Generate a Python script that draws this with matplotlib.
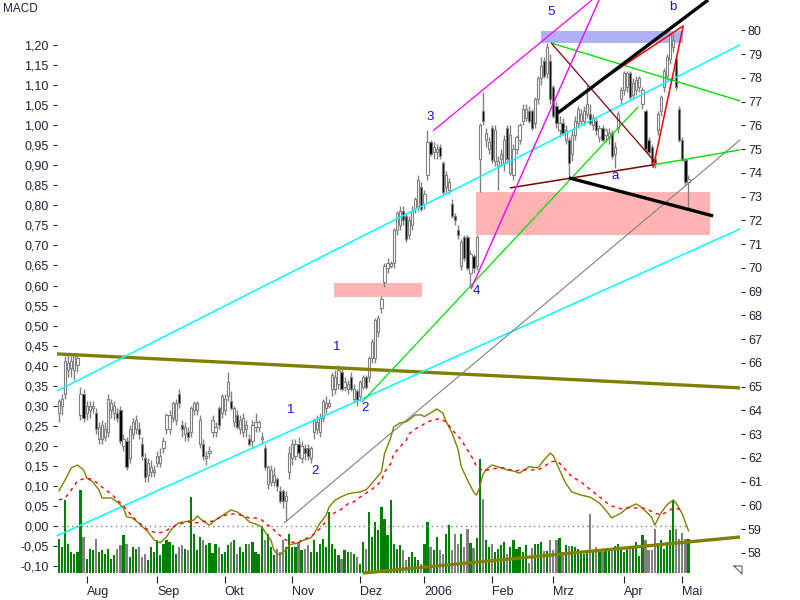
import numpy as np
import matplotlib
matplotlib.use("Agg")
import matplotlib.pyplot as plt
from matplotlib.patches import Rectangle
from matplotlib.lines import Line2D
from matplotlib.ticker import FuncFormatter

plt.rcParams['font.family'] = ['Liberation Sans', 'DejaVu Sans']

# Kursdaten (Tage als Index, Juli 2005 - Mai 2006)
opens = [63.9, 64.2, 64.7, 65.7, 65.8, 65.7, 65.9, 63.8, 64.7, 63.9,
         64.0, 64.1, 63.9, 62.8, 62.8, 62.9, 63.1, 64.0, 63.9, 63.9,
         64.0, 62.5, 62.7, 62.0, 63.0, 63.2, 63.2, 62.6, 62.0, 61.3,
         61.4, 61.4, 61.8, 61.8, 62.4, 63.2, 63.2, 63.7, 63.6, 64.7,
         63.4, 63.0, 63.1, 63.1, 64.0, 64.0, 62.6, 62.6, 62.0, 62.2,
         63.1, 63.1, 64.1, 63.9, 64.0, 64.6, 64.4, 63.5, 63.8, 63.2,
         63.1, 63.2, 62.8, 62.7, 63.3, 63.3, 62.8, 62.4, 60.9, 61.0,
         61.0, 61.1, 60.6, 60.6, 60.2, 61.4, 62.0, 62.1, 62.6, 62.0,
         62.4, 62.4, 62.0, 63.1, 63.2, 63.1, 63.7, 64.1, 64.2, 64.9,
         64.9, 65.1, 65.6, 65.0, 64.9, 65.4, 64.5, 64.8, 64.6, 65.0,
         65.4, 65.4, 66.2, 66.2, 67.3, 68.3, 69.4, 70.0, 70.1, 70.2,
         71.6, 71.8, 72.4, 72.2, 71.4, 71.8, 72.5, 72.6, 73.4, 72.7,
         73.9, 75.3, 74.9, 74.9, 75.1, 74.4, 73.4, 73.3, 72.7, 72.2,
         71.6, 70.1, 71.3, 71.3, 69.8, 70.5, 70.1, 74.6, 76.6, 75.4,
         75.0, 75.9, 74.5, 74.3, 74.6, 74.4, 75.9, 74.0, 73.9, 75.0,
         75.4, 76.2, 76.3, 76.6, 76.6, 76.1, 77.1, 78.0, 78.7, 78.2,
         78.7, 77.6, 76.8, 75.8, 76.1, 75.4, 75.4, 74.8, 75.6, 76.1,
         76.2, 76.2, 76.5, 76.5, 76.0, 76.2, 75.5, 75.9, 75.6, 75.5,
         75.7, 74.8, 75.9, 77.1, 77.5, 77.6, 78.2, 77.3, 77.5, 77.6,
         76.9, 76.6, 75.4, 75.1, 74.6, 75.8, 76.6, 77.6, 78.1, 78.8,
         79.3, 78.8, 76.7, 75.4, 74.55, 73.6]
highs = [64.5, 64.7, 66.3, 66.4, 66.3, 66.4, 66.4, 65.0, 64.9, 64.4,
         64.4, 64.4, 64.1, 63.5, 63.6, 63.5, 64.7, 64.5, 64.4, 64.1,
         64.2, 63.0, 62.9, 63.4, 63.7, 63.8, 63.5, 62.9, 62.2, 62.0,
         61.9, 61.7, 62.3, 62.4, 62.9, 63.9, 64.0, 64.4, 64.5, 64.9,
         63.6, 63.5, 63.3, 64.2, 64.4, 64.4, 63.8, 62.8, 62.3, 62.5,
         63.8, 63.5, 64.2, 64.7, 64.7, 65.6, 64.8, 64.2, 64.0, 63.8,
         63.9, 63.6, 63.0, 63.6, 63.9, 63.6, 63.1, 62.6, 61.7, 61.7,
         61.6, 61.2, 60.8, 60.7, 60.6, 62.5, 62.8, 62.8, 62.9, 62.7,
         62.6, 62.6, 62.5, 63.7, 63.8, 63.9, 64.5, 64.6, 64.5, 65.6,
         65.7, 65.9, 65.8, 65.4, 65.3, 65.6, 65.1, 64.9, 65.3, 65.5,
         65.5, 66.3, 67.0, 67.9, 68.0, 68.8, 70.2, 70.4, 70.3, 71.7,
         72.4, 72.6, 72.6, 72.3, 72.2, 72.6, 73.0, 73.9, 73.6, 73.3,
         75.8, 75.4, 75.3, 75.2, 75.2, 74.5, 74.1, 73.8, 72.9, 72.3,
         71.8, 71.2, 71.4, 71.4, 70.7, 70.6, 71.4, 76.1, 77.4, 75.9,
         75.5, 76.0, 76.0, 74.7, 75.0, 75.6, 76.0, 76.0, 75.2, 75.6,
         76.1, 76.9, 76.9, 76.8, 76.7, 77.2, 78.1, 78.9, 78.9, 79.45,
         79.0, 77.7, 77.0, 76.4, 76.3, 76.0, 75.5, 75.8, 76.4, 76.8,
         76.7, 76.8, 77.7, 76.9, 76.5, 76.3, 76.0, 76.0, 75.9, 75.9,
         75.8, 75.3, 76.6, 77.6, 78.3, 78.3, 78.3, 78.0, 78.1, 78.1,
         77.6, 76.7, 75.5, 75.2, 74.7, 76.6, 77.3, 78.4, 79.0, 79.9,
         79.9, 78.9, 76.8, 75.5, 74.6, 73.9]
lows = [63.5, 63.8, 64.5, 65.4, 65.4, 65.3, 65.6, 63.6, 63.5, 63.6,
        63.7, 63.9, 63.0, 62.6, 62.6, 62.7, 62.9, 63.7, 63.6, 63.5,
        62.6, 62.3, 61.5, 61.8, 62.8, 63.0, 62.8, 61.9, 61.0, 61.0,
        61.2, 61.2, 61.6, 61.6, 62.2, 63.0, 63.0, 63.5, 63.4, 64.1,
        62.9, 62.7, 62.7, 62.9, 63.8, 63.8, 62.4, 61.9, 61.7, 62.0,
        62.9, 62.9, 63.2, 63.7, 63.8, 64.4, 64.0, 63.3, 63.2, 63.0,
        62.9, 62.9, 62.5, 62.4, 63.1, 63.1, 62.6, 61.5, 60.7, 60.8,
        60.8, 60.6, 60.1, 59.9, 59.35, 61.1, 61.7, 61.9, 62.0, 61.8,
        61.9, 61.9, 61.8, 62.8, 63.0, 62.9, 63.5, 63.9, 64.1, 64.6,
        64.7, 64.9, 64.8, 64.8, 64.7, 64.8, 64.3, 64.2, 64.4, 64.9,
        64.9, 65.2, 66.0, 66.0, 67.1, 68.1, 69.2, 69.8, 70.0, 70.0,
        71.4, 71.6, 71.8, 71.1, 71.2, 71.6, 72.3, 72.4, 72.4, 72.5,
        73.7, 74.7, 74.6, 74.6, 74.6, 73.1, 73.2, 73.1, 72.1, 71.8,
        71.2, 69.9, 70.3, 69.9, 69.2, 69.8, 69.9, 73.2, 76.0, 75.1,
        74.8, 74.4, 74.3, 73.3, 74.3, 74.1, 74.4, 73.9, 73.7, 74.8,
        75.2, 76.0, 76.2, 76.1, 75.8, 75.9, 76.9, 77.7, 78.0, 78.0,
        76.9, 76.3, 75.9, 75.5, 75.6, 75.2, 73.8, 74.5, 75.4, 75.9,
        76.0, 76.0, 76.3, 76.0, 75.8, 75.6, 75.3, 75.3, 75.3, 75.2,
        74.6, 74.2, 75.7, 76.9, 77.3, 77.4, 77.1, 77.1, 77.3, 77.4,
        76.7, 74.9, 74.8, 74.3, 74.2, 75.6, 76.4, 77.4, 77.9, 78.6,
        79.1, 77.5, 75.3, 74.5, 73.5, 72.45]
closes = [64.4, 64.5, 66.1, 66.0, 66.1, 66.3, 66.2, 64.7, 63.7, 64.2,
          64.2, 64.2, 63.2, 63.3, 63.4, 63.2, 64.5, 64.3, 64.2, 63.7,
          62.7, 62.8, 61.6, 63.2, 63.5, 63.6, 63.0, 62.1, 61.2, 61.8,
          61.6, 61.5, 62.1, 62.1, 62.7, 63.8, 63.8, 64.3, 64.3, 64.3,
          63.2, 63.3, 62.9, 64.1, 64.3, 64.3, 63.6, 62.1, 62.1, 62.3,
          63.6, 63.3, 63.4, 64.6, 64.5, 65.2, 64.1, 64.1, 63.3, 63.6,
          63.7, 63.4, 62.6, 63.4, 63.5, 63.5, 62.9, 61.6, 61.6, 61.5,
          61.3, 60.8, 60.2, 60.2, 60.4, 62.2, 62.6, 62.6, 62.2, 62.5,
          62.2, 62.1, 62.4, 63.6, 63.5, 63.7, 64.4, 64.3, 64.3, 65.5,
          65.4, 65.7, 64.9, 65.2, 65.1, 64.9, 64.9, 64.4, 65.2, 65.4,
          65.0, 66.2, 66.9, 67.8, 67.9, 68.7, 70.1, 70.2, 70.2, 71.6,
          72.3, 72.4, 72.0, 71.2, 72.0, 72.4, 72.9, 73.7, 72.5, 73.1,
          75.3, 74.8, 75.1, 75.0, 74.7, 73.2, 73.9, 73.6, 72.2, 72.0,
          71.4, 71.1, 70.4, 70.0, 70.6, 70.0, 71.3, 76.0, 76.2, 75.7,
          75.3, 74.55, 75.8, 74.5, 74.8, 75.4, 74.6, 75.6, 75.0, 75.5,
          76.0, 76.7, 76.7, 76.2, 75.9, 77.1, 78.0, 78.5, 78.1, 79.3,
          77.1, 76.4, 76.1, 76.1, 75.7, 75.8, 74.4, 75.6, 76.2, 76.7,
          76.5, 76.6, 76.9, 76.1, 76.3, 75.8, 75.9, 75.4, 75.8, 75.7,
          74.7, 75.1, 76.5, 77.5, 78.2, 78.2, 77.2, 77.8, 77.9, 78.0,
          77.5, 75.0, 74.9, 74.4, 74.4, 76.5, 77.2, 78.3, 78.9, 79.8,
          79.6, 77.6, 75.4, 74.55, 73.6, 73.75]
volume = [34, 26, 73, 29, 21, 19, 21, 83, 36, 14,
          24, 23, 34, 21, 23, 19, 24, 14, 18, 24,
          28, 38, 29, 16, 26, 24, 26, 16, 19, 13,
          26, 21, 33, 18, 29, 33, 31, 28, 19, 26,
          28, 24, 23, 76, 39, 23, 36, 33, 28, 30,
          20, 29, 26, 19, 21, 28, 31, 33, 19, 26,
          21, 29, 29, 31, 21, 19, 46, 33, 39, 26,
          18, 24, 21, 33, 26, 39, 26, 26, 31, 23,
          24, 28, 21, 33, 21, 29, 34, 26, 61, 29,
          24, 18, 14, 23, 21, 21, 19, 16, 9, 31,
          24, 61, 36, 51, 43, 66, 54, 38, 73, 29,
          24, 28, 23, 13, 16, 21, 16, 13, 9, 29,
          51, 26, 23, 36, 23, 19, 39, 48, 23, 39,
          29, 39, 26, 44, 30, 25, 35, 114, 74, 33,
          26, 29, 21, 24, 28, 31, 19, 26, 33, 24,
          26, 21, 28, 10, 25, 29, 29, 31, 22, 22,
          33, 23, 33, 35, 21, 28, 27, 27, 26, 24,
          21, 19, 22, 59, 21, 26, 24, 21, 23, 25,
          25, 27, 29, 23, 21, 25, 26, 27, 31, 17,
          38, 33, 23, 23, 44, 30, 33, 24, 31, 43,
          73, 44, 34, 40, 34, 34]

macd_days = [0, 2, 4, 6, 8, 9, 11, 13, 14, 17, 19, 21, 22, 24, 26, 29, 31, 33, 35, 37,
             39, 42, 44, 45, 47, 49, 51, 53, 56, 58, 60, 62, 64, 66, 68, 69, 70, 71, 72, 73,
             74, 75, 78, 79, 82, 83, 85, 87, 88, 90, 92, 94, 96, 98, 100, 102, 105, 106, 108, 109,
             111, 113, 114, 116, 118, 119, 121, 123, 125, 126, 128, 130, 131, 133, 135, 136, 137, 138, 139, 141,
             144, 146, 148, 150, 153, 156, 158, 160, 161, 163, 165, 167, 170, 173, 176, 178, 180, 183, 185, 188,
             190, 193, 194, 196, 198, 200, 201, 203, 205]
macd_vals = [0.088, 0.115, 0.145, 0.152, 0.14, 0.12, 0.11, 0.09, 0.07, 0.07, 0.06, 0.045, 0.023, 0.02, 0.007,
             -0.015, -0.035, -0.042, -0.027, -0.005, 0.008, 0.012, 0.015, 0.025, 0.012, 0.002, 0.015, 0.025,
             0.04, 0.035, 0.025, 0.01, 0.005, -0.002, -0.025, -0.035, -0.06, -0.07, -0.072, -0.065, -0.06,
             -0.047, -0.042, -0.037, -0.03, -0.02, 0.007, 0.027, 0.048, 0.065, 0.073, 0.08, 0.083, 0.085, 0.09,
             0.107, 0.135, 0.18, 0.22, 0.247, 0.257, 0.26, 0.265, 0.277, 0.277, 0.273, 0.282, 0.292, 0.282,
             0.262, 0.232, 0.19, 0.148, 0.115, 0.085, 0.077, 0.097, 0.127, 0.14, 0.152, 0.145, 0.14, 0.137,
             0.132, 0.148, 0.145, 0.165, 0.182, 0.175, 0.14, 0.107, 0.085, 0.077, 0.072, 0.057, 0.04, 0.02,
             0.032, 0.045, 0.055, 0.045, 0.022, 0.002, 0.032, 0.053, 0.065, 0.057, 0.03, -0.012]
signal_days = [0, 2, 4, 6, 8, 10, 12, 14, 17, 19, 21, 23, 25, 27, 29, 32, 34, 36, 38, 40,
               42, 45, 47, 49, 51, 53, 56, 58, 60, 62, 64, 66, 68, 69, 71, 73, 75, 78, 79, 82,
               83, 85, 87, 89, 92, 94, 96, 98, 100, 102, 105, 106, 108, 109, 111, 113, 114, 116, 118, 120,
               122, 124, 126, 128, 131, 133, 135, 136, 138, 140, 143, 145, 147, 149, 151, 153, 156, 158, 160, 162,
               163, 165, 167, 170, 172, 174, 176, 178, 180, 183, 185, 187, 190, 192, 194, 196, 198, 200, 202, 203]
signal_vals = [0.065, 0.07, 0.09, 0.112, 0.118, 0.118, 0.11, 0.097, 0.08, 0.065, 0.05, 0.032, 0.015, 0.002,
               -0.01, -0.018, -0.015, -0.007, 0.002, 0.006, 0.01, 0.008, 0.012, 0.01, 0.015, 0.025, 0.03, 0.03,
               0.025, 0.02, 0.02, 0.015, 0.002, -0.002, -0.018, -0.03, -0.04, -0.042, -0.035, -0.027, -0.02,
               -0.007, 0.012, 0.03, 0.042, 0.055, 0.06, 0.072, 0.082, 0.092, 0.112, 0.135, 0.155, 0.18, 0.197,
               0.213, 0.23, 0.242, 0.25, 0.26, 0.264, 0.268, 0.26, 0.24, 0.215, 0.19, 0.165, 0.148, 0.138, 0.14,
               0.145, 0.145, 0.14, 0.138, 0.14, 0.14, 0.14, 0.148, 0.16, 0.162, 0.157, 0.14, 0.123, 0.11, 0.097,
               0.085, 0.073, 0.06, 0.05, 0.043, 0.045, 0.045, 0.045, 0.04, 0.032, 0.028, 0.035, 0.045, 0.042, 0.035]

# Achsenbeschriftung
month_days = [9, 32, 54, 76, 98, 119, 141, 161, 184, 203]
month_labels = ['Aug', 'Sep', 'Okt', 'Nov', 'Dez', '2006', 'Feb', 'Mrz', 'Apr', 'Mai']
price_ticks = list(range(58, 81))
macd_ticks = [round(-0.10 + 0.05 * k, 2) for k in range(27)]

# Zeichenobjekte (Tag, Kurs)
olive_trend = [(-0.65, 66.38), (221.8, 64.95)]
cyan_upper = [(-0.65, 64.82), (221.8, 79.39)]
cyan_lower = [(-0.65, 58.72), (221.8, 71.64)]
gray_line = [(73.3, 59.26), (221.8, 75.39)]
green_up = [(98.7, 64.36), (188.6, 76.78)]
green_down = [(160.3, 79.47), (221.8, 77.03)]
green_low = [(193.5, 74.34), (221.8, 74.97)]
maroon_cross = [(160.3, 79.47), (194.1, 74.46)]
maroon_base = [(146.9, 73.37), (193.5, 74.34)]
red_wedge = [(176.9, 77.92), (203.3, 80.19), (193.5, 74.21)]
black_upper = [(162.5, 76.53), (211.4, 81.28)]
black_lower = [(166.1, 73.79), (213.0, 72.19)]
magenta_channel = [(121.8, 75.77), (173.6, 81.28)]
magenta_steep = [(134.2, 69.12), (175.9, 81.28)]
vol_trend = [(99.0, 0), (221.8, 36)]

# Zonen: (Tag von, Tag bis, Kurs unten, Kurs oben)
zone_small = (89.6, 118.2, 68.78, 69.37)
zone_big = (135.8, 212.0, 71.37, 73.20)
zone_top = (157.0, 203.3, 79.47, 79.98)

wave_labels = ['1', '1', '2', '2', '3', '4', '5', 'a', 'b']
wave_x = [75.6, 90.6, 83.4, 99.7, 120.8, 135.8, 160.3, 181.1, 200.0]
wave_y = [64.02, 66.67, 61.45, 64.10, 76.36, 69.03, 80.78, 73.87, 80.99]

o = np.array(opens)
h = np.array(highs)
l = np.array(lows)
c = np.array(closes)
v = np.array(volume)
n = len(c)
idx = np.arange(n)
up = c >= o

fig = plt.figure(figsize=(8, 6), dpi=100)
ax_vol = fig.add_axes([57 / 800, 24 / 600, 684 / 800, 576 / 600])
ax_p = ax_vol.twinx()
ax_m = ax_vol.twinx()

# Volumen
ax_vol.bar(idx, v, width=0.72, color=np.where(up, '#008000', '#808080'), linewidth=0)
ax_vol.plot(*zip(*vol_trend), color='#808000', lw=2.4, solid_capstyle='butt')
ax_vol.set_ylim(-3, 573)
ax_vol.set_xlim(-0.65, 222.1)
ax_vol.set_yticks([])

# Zonen
for (x0, x1, y0, y1), col in [(zone_small, '#FFB3B3'), (zone_big, '#FFB3B3'), (zone_top, '#B0B0F5')]:
    ax_p.add_patch(Rectangle((x0, y0), x1 - x0, y1 - y0, facecolor=col, edgecolor='none', zorder=0.5))

# Kerzen
ax_p.vlines(idx, l, h, color='#808080', lw=1.0, zorder=1)
body_lo = np.minimum(o, c)
body_h = np.maximum(np.abs(c - o), 0.06)
ax_p.bar(idx, body_h, bottom=body_lo, width=0.72,
         color=np.where(up, '#FFFFFF', '#000000'), edgecolor='#808080', linewidth=0.8, zorder=2)

# Trendlinien
lines = [
    (olive_trend, '#808000', 2.4),
    (cyan_upper, '#00FFFF', 1.1),
    (cyan_lower, '#00FFFF', 1.1),
    (gray_line, '#808080', 0.8),
    (green_up, '#00E000', 0.9),
    (green_down, '#00E000', 1.0),
    (green_low, '#00E000', 1.0),
    (maroon_cross, '#800000', 0.9),
    (maroon_base, '#800000', 1.1),
    (red_wedge, '#FF0000', 1.1),
    (black_upper, '#000000', 2.4),
    (black_lower, '#000000', 2.4),
    (magenta_channel, '#FF00FF', 0.9),
    (magenta_steep, '#FF00FF', 1.0),
]
for pts, col, lw in lines:
    xs, ys = zip(*pts)
    ax_p.plot(xs, ys, color=col, lw=lw, zorder=3, solid_capstyle='butt')

for txt, x, y in zip(wave_labels, wave_x, wave_y):
    ax_p.text(x, y, txt, color='#1010F0', fontsize=9.5, ha='center', va='center', zorder=4)

ax_p.set_ylim(57.03, 81.28)
ax_p.set_yticks(price_ticks)
ax_p.yaxis.tick_right()
ax_p.tick_params(axis='y', direction='out', length=3, width=0.8, pad=2,
                 labelsize=9, colors='#202040')

# MACD
ax_m.plot([-0.6, 205], [0, 0], color='#808080', lw=1, linestyle=(0, (1, 2.5)))
ax_m.plot(macd_days, macd_vals, color='#808000', lw=1.0)
ax_m.plot(signal_days, signal_vals, color='#FF0000', lw=1.0, linestyle=(0, (2.5, 3)))
ax_m.set_ylim(-0.1248, 1.3124)
ax_m.set_yticks(macd_ticks)
ax_m.yaxis.tick_left()
ax_m.yaxis.set_major_formatter(FuncFormatter(lambda val, pos: f"{val:.2f}".replace('.', ',')))
ax_m.tick_params(axis='y', direction='out', length=3, width=0.8, pad=3,
                 labelsize=9, colors='#202040')

ax_vol.set_xticks(month_days)
ax_vol.set_xticklabels(month_labels, ha='left')
ax_vol.tick_params(axis='x', direction='out', length=5, width=0.8, pad=2,
                   labelsize=9, colors='#202040')

for a in (ax_vol, ax_p, ax_m):
    for s in a.spines.values():
        s.set_visible(False)

fig.text(3 / 800, 1 - 9 / 600, 'MACD', fontsize=8.5, va='center', ha='left', color='#202040')

# kleines Größen-Symbol unten rechts
fig.add_artist(Line2D([734 / 800, 742 / 800, 742 / 800, 734 / 800],
                      [1 - 566 / 600, 1 - 566 / 600, 1 - 574 / 600, 1 - 566 / 600],
                      color='#606060', lw=0.8))

fig.savefig('out.png', dpi=100)
